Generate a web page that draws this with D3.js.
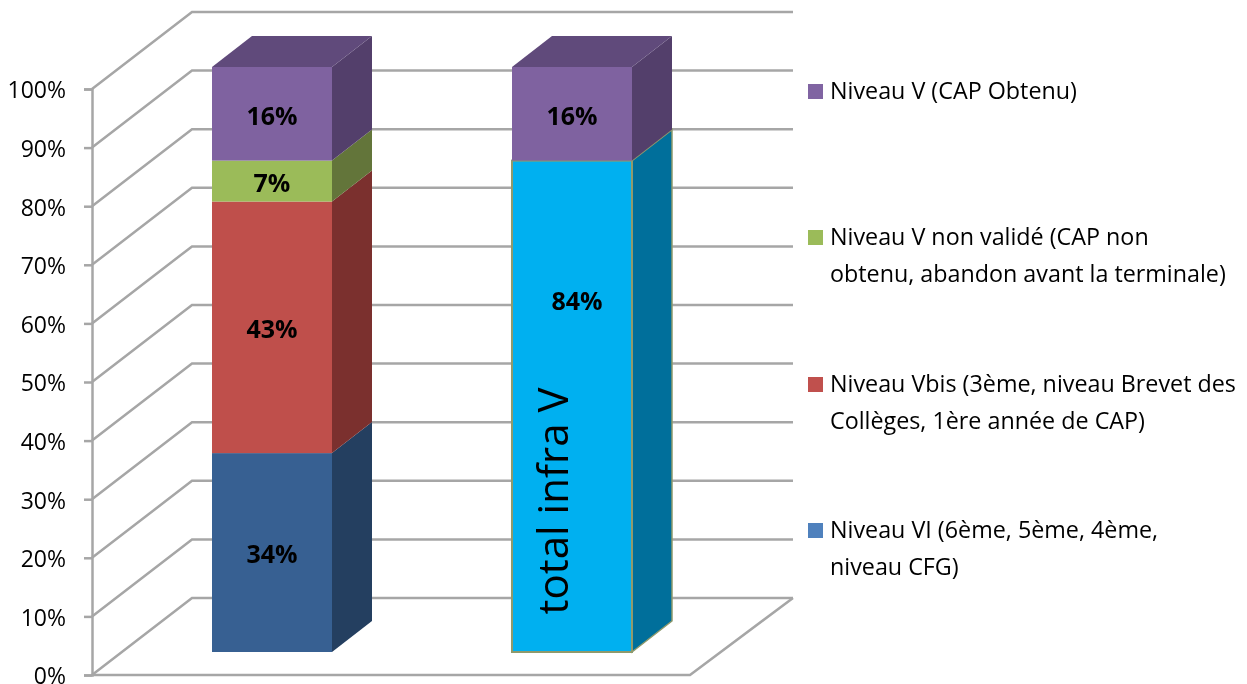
<!DOCTYPE html>
<html>
<head>
<meta charset="utf-8">
<script src="https://cdn.jsdelivr.net/npm/d3@7"></script>
<style>
  html, body { margin: 0; padding: 0; background: #fff; }
  svg { display: block; filter: blur(0.5px); }
  text { font-family: "Open Sans", "Noto Sans", sans-serif; fill: #000; }
</style>
</head>
<body>
<div id="chart"></div>
<script>
var categories = ["Détail", "Total"];
var seriesNames = ["VI", "Vbis", "Vnon", "infra", "V"];
var valuesVI = [34, 0];
var valuesVbis = [43, 0];
var valuesVnon = [7, 0];
var valuesInfra = [0, 84];
var valuesV = [16, 16];
var tickValues = [0, 10, 20, 30, 40, 50, 60, 70, 80, 90, 100];
var legendNames = ["Niveau V (CAP Obtenu)",
                   "Niveau V non validé (CAP non|obtenu, abandon avant la terminale)",
                   "Niveau Vbis (3ème, niveau Brevet des|Collèges, 1ère année de CAP)",
                   "Niveau VI (6ème, 5ème, 4ème,|niveau CFG)"];

var w = 1247;
var h = 684;

// colours: front, top, side
var colors = {
  VI:    ["#376092", "#2c4d75", "#243f60"],
  Vbis:  ["#bf4f4b", "#953735", "#7b302e"],
  Vnon:  ["#9bbb59", "#76923c", "#63753a"],
  infra: ["#00b0f0", "#0086b8", "#006f9b"],
  V:     ["#7f62a0", "#604a7b", "#533f6b"]
};
var legendColors = ["#8064a2", "#9bbb59", "#c0504d", "#4f81bd"];
var legendY = [91, 237, 384, 530];

var rows = categories.map(function(c, i) {
  return { cat: c, VI: valuesVI[i], Vbis: valuesVbis[i], Vnon: valuesVnon[i], infra: valuesInfra[i], V: valuesV[i] };
});
var stacked = d3.stack().keys(seriesNames)(rows);

var svg = d3.select("#chart").append("svg")
            .attr("width", w)
            .attr("height", h);

// y for the front edge of the wall, and for the front face of the bars
var y = d3.scaleLinear().domain([0, 100]).range([675, 89]);
var yBar = d3.scaleLinear().domain([0, 100]).range([652, 67]);
var x = d3.scaleBand().domain(categories).range([92, 752]).paddingInner(0.6).paddingOuter(0.4);

var wallDx = 100, wallDy = -77;   // depth of the wall
var barDx = 40, barDy = -31;      // depth of a bar
var wallRight = 793;
var floorRight = 690;
var gridColor = "#a6a6a6";

// back wall and side wall lines
var grid = svg.append("g")
              .attr("fill", "none")
              .attr("stroke", gridColor)
              .attr("stroke-width", 2.5);
grid.selectAll("path")
    .data(tickValues)
    .enter()
    .append("path")
    .attr("d", function(d) {
      return "M" + x.range()[0] + "," + y(d) +
             "L" + (x.range()[0] + wallDx) + "," + (y(d) + wallDy) +
             "H" + wallRight;
    });
// floor
grid.append("path")
    .attr("d", "M" + x.range()[0] + "," + y(0) + "H" + floorRight + "L" + wallRight + "," + (y(0) + wallDy));

// axis
var axis = d3.axisLeft(y)
             .tickValues(tickValues)
             .tickSize(8)
             .tickPadding(18)
             .tickFormat(function(d) { return d + "%"; });
var axisG = svg.append("g")
               .attr("transform", "translate(" + x.range()[0] + ",0)")
               .call(axis);
axisG.select(".domain").attr("stroke", gridColor).attr("stroke-width", 2.5);
axisG.selectAll(".tick line").attr("stroke", gridColor).attr("stroke-width", 2.5);
axisG.selectAll(".tick text")
     .style("font-size", "23px")
     .attr("y", 1.5)
     .attr("fill", "#000");

// bars, one stacked column at a time
categories.forEach(function(cat, i) {
  var g = svg.append("g");
  var x0 = x(cat);
  var x1 = x0 + x.bandwidth();

  stacked.forEach(function(layer) {
    var d = layer[i];
    if (d[1] - d[0] <= 0) return;
    var c = colors[layer.key];
    var yb = yBar(d[0]);
    var yt = yBar(d[1]);
    var edge = layer.key == "infra" ? "#8f9a6c" : "none";

    // side
    g.append("polygon")
     .attr("points", [[x1, yb], [x1 + barDx, yb + barDy], [x1 + barDx, yt + barDy], [x1, yt]].join(" "))
     .attr("fill", c[2])
     .attr("stroke", edge)
     .attr("stroke-width", 1.5);
    // top of the column
    if (d[1] == 100) {
      g.append("polygon")
       .attr("points", [[x0, yt], [x0 + barDx, yt + barDy], [x1 + barDx, yt + barDy], [x1, yt]].join(" "))
       .attr("fill", c[1]);
    }
    // front
    g.append("rect")
     .attr("x", x0)
     .attr("y", yt)
     .attr("width", x1 - x0)
     .attr("height", yb - yt)
     .attr("fill", c[0])
     .attr("stroke", edge)
     .attr("stroke-width", 2);
  });
});

// data labels
stacked.forEach(function(layer) {
  layer.forEach(function(d, i) {
    if (d[1] - d[0] <= 0) return;
    var isInfra = layer.key == "infra";
    svg.append("text")
       .attr("x", x(categories[i]) + x.bandwidth() / 2 + (isInfra ? 5 : 0))
       .attr("y", isInfra ? yBar(60) : yBar((d[0] + d[1]) / 2) + 2)
       .attr("dy", "0.35em")
       .attr("text-anchor", "middle")
       .style("font-size", "25px")
       .style("font-weight", "700")
       .text(valueLabel(layer.key, i));
  });
});

function valueLabel(key, i) {
  var vals = { VI: valuesVI, Vbis: valuesVbis, Vnon: valuesVnon, infra: valuesInfra, V: valuesV };
  return vals[key][i] + "%";
}

// text inside the blue bar
svg.append("text")
   .attr("transform", "translate(568,501) rotate(-90)")
   .attr("text-anchor", "middle")
   .style("font-size", "42px")
   .text("total infra V");

// legend
var legend = svg.selectAll(".legend")
                .data(legendNames)
                .enter()
                .append("g")
                .attr("class", "legend")
                .attr("transform", function(d, i) { return "translate(808," + legendY[i] + ")"; });
legend.append("rect")
      .attr("x", 0)
      .attr("y", -7)
      .attr("width", 15)
      .attr("height", 15)
      .attr("fill", function(d, i) { return legendColors[i]; });
legend.each(function(d) {
  var lines = d.split("|");
  var t = d3.select(this).append("text")
            .style("font-size", "23.3px");
  lines.forEach(function(line, j) {
    t.append("tspan")
     .attr("x", 22)
     .attr("y", 8 + j * 36.5)
     .text(line);
  });
});
</script>
</body>
</html>
